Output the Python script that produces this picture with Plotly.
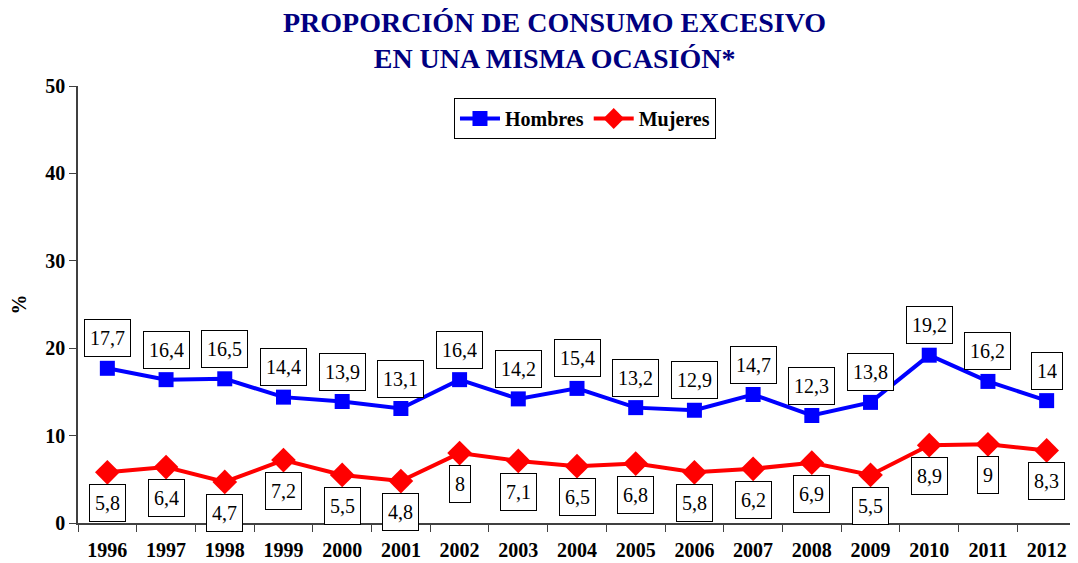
import plotly.graph_objects as go

years = [str(y) for y in range(1996, 2013)]
hombres = [17.7, 16.4, 16.5, 14.4, 13.9, 13.1, 16.4, 14.2, 15.4, 13.2, 12.9, 14.7, 12.3, 13.8, 19.2, 16.2, 14.0]
mujeres = [5.8, 6.4, 4.7, 7.2, 5.5, 4.8, 8.0, 7.1, 6.5, 6.8, 5.8, 6.2, 6.9, 5.5, 8.9, 9.0, 8.3]
title_lines = ["PROPORCIÓN DE CONSUMO EXCESIVO", "EN UNA MISMA OCASIÓN*"]

def fmt(v):
    s = ("%.1f" % v).rstrip("0").rstrip(".")
    return s.replace(".", ",")

serif = "Liberation Serif, Times New Roman, serif"

fig = go.Figure()
fig.add_trace(go.Scatter(x=years, y=hombres, name="Hombres", mode="lines+markers",
                         line=dict(color="#0000FF", width=4),
                         marker=dict(symbol="square", size=15, color="#0000FF"),
                         cliponaxis=False))
fig.add_trace(go.Scatter(x=years, y=mujeres, name="Mujeres", mode="lines+markers",
                         line=dict(color="#FF0000", width=4),
                         marker=dict(symbol="diamond", size=19, color="#FF0000"),
                         cliponaxis=False))

annotations = []
box = dict(showarrow=False, font=dict(family=serif, size=20, color="black"),
           bordercolor="black", borderwidth=1, borderpad=5, bgcolor="white", height=26)
for i, v in enumerate(hombres):
    annotations.append(dict(x=i, y=v, xref="x", yref="y", text=fmt(v), yshift=30, **box))
for i, v in enumerate(mujeres):
    annotations.append(dict(x=i, y=v, xref="x", yref="y", text=fmt(v), yshift=-31, **box))

annotations.append(dict(x=0.477, y=1.104, xref="paper", yref="paper", xanchor="center", yanchor="middle",
                        text="<b>" + "<br>".join(title_lines) + "</b>", showarrow=False,
                        font=dict(family=serif, size=28, color="#000080")))

fig.update_layout(
    width=1070, height=555,
    margin=dict(l=70, r=2, t=78, b=40),
    paper_bgcolor="white", plot_bgcolor="white",
    legend=dict(orientation="h", x=0.508, xanchor="center", y=0.9725, yanchor="top",
                bordercolor="black", borderwidth=1, bgcolor="white",
                font=dict(family=serif, size=20, color="black", weight="bold"),
                itemwidth=40, tracegroupgap=0),
    xaxis=dict(type="category", range=[-0.5, 16.5], showgrid=False,
               showline=True, linecolor="#404040", linewidth=1.5,
               ticks="outside", ticklen=7, tickcolor="#404040", tickson="boundaries",
               ticklabelstandoff=8,
               tickfont=dict(family=serif, size=20, color="black", weight="bold")),
    yaxis=dict(range=[0, 50], dtick=10, showgrid=False, zeroline=False,
               showline=True, linecolor="#404040", linewidth=1.5,
               ticks="outside", ticklen=7, tickcolor="#404040",
               tickfont=dict(family=serif, size=20, color="black", weight="bold"),
               title=dict(text="%", font=dict(family=serif, size=20, color="black", weight="bold"),
                          standoff=20)),
    annotations=annotations,
)
fig.write_html("out.html")
